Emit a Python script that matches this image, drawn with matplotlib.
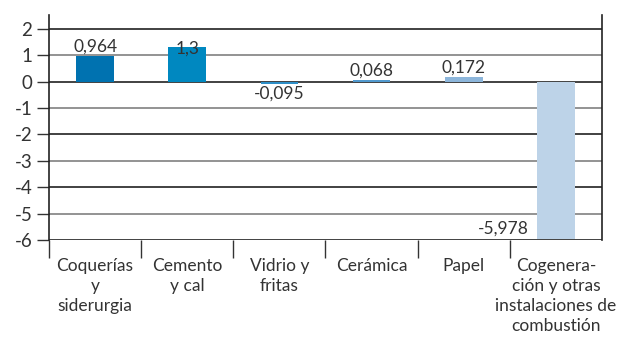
import matplotlib.pyplot as plt

# --- DATA ---
categories = [
    "Coquerías\ny\nsiderurgia",
    "Cemento\ny cal",
    "Vidrio y\nfritas",
    "Cerámica",
    "Papel",
    "Cogenera-\nción y otras\ninstalaciones de\ncombustión",
]
values = [0.964, 1.3, -0.095, 0.068, 0.172, -5.978]
value_labels = ["0,964", "1,3", "-0,095", "0,068", "0,172", "-5,978"]
y_ticks = [2, 1, 0, -1, -2, -3, -4, -5, -6]

colors = ["#0072B0", "#0088C0", "#2E8FC8", "#5199CE", "#8DB6DB", "#BDD3E8"]

plt.rcParams['font.family'] = ['Lato', 'DejaVu Sans']

fig = plt.figure(figsize=(6.18, 3.38), dpi=100)
ax = fig.add_axes([49 / 618, 1 - 240 / 338, (602 - 49) / 618, (240 - 15) / 338])

x = list(range(len(categories)))
ax.set_xlim(-0.5, len(categories) - 0.5)
ax.set_ylim(-6, 2.53)

# horizontal grid, alternating dark / grey
for t in y_ticks:
    ax.axhline(t, color="#333333" if t % 2 == 0 else "#8a8a8a", lw=1.3, zorder=1)

ax.bar(x, values, width=0.41, color=colors, zorder=2)

# value labels
fs = 12.5
for i, (v, lab) in enumerate(zip(values, value_labels)):
    if i == 5:
        ax.text(i - 0.3, v + 0.1, lab, ha="right", va="bottom", fontsize=fs, color="#333333")
    elif v < 0:
        ax.text(i, v - 0.05, lab, ha="center", va="top", fontsize=fs, color="#333333")
    elif i == 1:
        ax.text(i, v - 0.35, lab, ha="center", va="bottom", fontsize=fs, color="#333333")
    else:
        ax.text(i, v + 0.05, lab, ha="center", va="bottom", fontsize=fs, color="#333333")

# y axis
ax.set_yticks(y_ticks)
ax.set_yticklabels([str(t) for t in y_ticks])
ax.tick_params(axis="y", length=9, width=1, color="#333333", labelsize=13.5,
               labelcolor="#333333", pad=3)

# x axis: category names centered, tick marks between categories
ax.set_xticks(x)
ax.set_xticklabels(categories, fontsize=fs, color="#333333", linespacing=1.3)
ax.tick_params(axis="x", length=0, pad=13)
ax.set_xticks([i - 0.5 for i in range(len(categories))], minor=True)
ax.tick_params(axis="x", which="minor", length=13, width=1, color="#333333")

for side in ["left", "right"]:
    ax.spines[side].set_color("#222222")
    ax.spines[side].set_linewidth(1.2)
ax.spines["top"].set_visible(False)
ax.spines["bottom"].set_visible(False)

fig.savefig("out.png", dpi=100)
